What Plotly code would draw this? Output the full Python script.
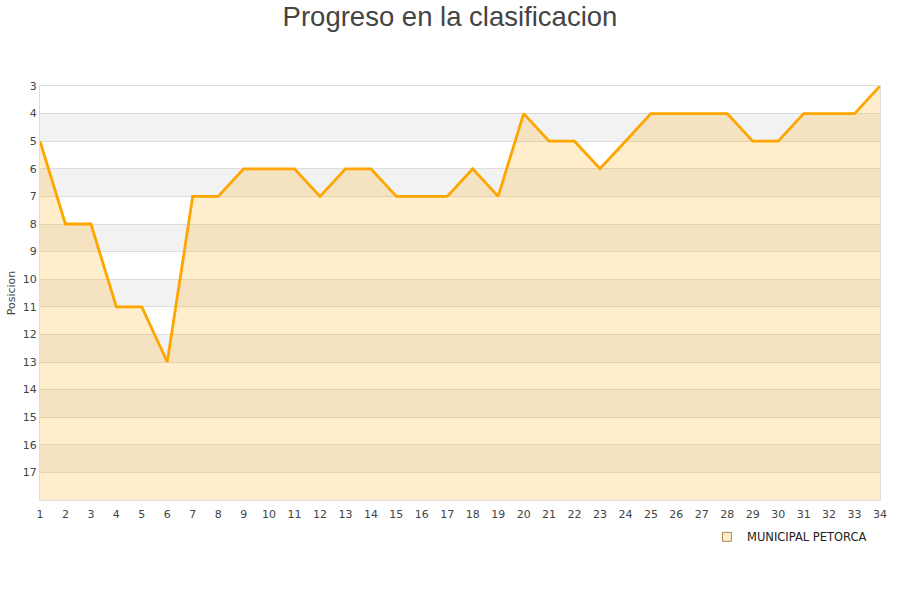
import plotly.graph_objects as go

jornadas = list(range(1, 35))
posiciones = [5, 8, 8, 11, 11, 13, 7, 7, 6, 6, 6, 7, 6, 6, 7, 7, 7, 6, 7, 4,
              5, 5, 6, 5, 4, 4, 4, 4, 5, 5, 4, 4, 4, 3]
y_ticks = list(range(3, 18))
y_min, y_max = 3, 18
team = "MUNICIPAL PETORCA"
title = "Progreso en la clasificacion"

fig = go.Figure()

# baseline for the fill (bottom of reversed axis)
fig.add_trace(go.Scatter(x=jornadas, y=[y_max] * len(jornadas), mode="lines",
                         line=dict(width=0, color="rgba(0,0,0,0)"),
                         showlegend=False, hoverinfo="skip"))
fig.add_trace(go.Scatter(x=jornadas, y=posiciones, mode="lines", fill="tonexty",
                         fillcolor="rgba(255,165,0,0.2)",
                         line=dict(color="#ffa500", width=2.8),
                         name=team, showlegend=False))
# legend-only entry with square marker
fig.add_trace(go.Scatter(x=[None], y=[None], mode="markers", name=team,
                         marker=dict(symbol="square", size=9,
                                     color="#ffedcc",
                                     line=dict(color="#b08850", width=1))))

shapes = []
for v in y_ticks:
    if v % 2 == 0:
        shapes.append(dict(type="rect", xref="paper", yref="y", x0=0, x1=1,
                           y0=v, y1=v + 1, fillcolor="#f2f2f2",
                           line=dict(width=0), layer="below"))

fig.update_layout(
    width=900, height=600,
    margin=dict(l=40, r=20, t=86, b=100),
    paper_bgcolor="white", plot_bgcolor="white",
    title=dict(text=title, x=0.5, xanchor="center", y=0.988, yanchor="top",
               font=dict(family="Liberation Sans, Arial", size=27.5, color="#444")),
    font=dict(family="DejaVu Sans, Arial", size=11, color="#444"),
    shapes=shapes,
    showlegend=True,
    legend=dict(orientation="h", x=0.794, xanchor="left", y=-0.089, yanchor="middle",
                font=dict(size=11.5, color="#222"), bgcolor="rgba(0,0,0,0)",
                itemwidth=30),
    xaxis=dict(range=[1, 34], tickmode="array", tickvals=jornadas,
               ticktext=[str(j) for j in jornadas], showgrid=False,
               zeroline=False, showline=True, linecolor="#ddd", mirror=True,
               ticks="", ticklabelstandoff=4, tickfont=dict(size=11, color="#444")),
    yaxis=dict(range=[y_max, y_min], tickmode="array", tickvals=y_ticks,
               ticktext=[str(v) for v in y_ticks], showgrid=True,
               gridcolor="#ddd", gridwidth=1, zeroline=False, showline=True,
               linecolor="#ddd", mirror=True, ticks="",
               title=dict(text="Posicion", font=dict(size=11, color="#444"), standoff=4),
               tickfont=dict(size=11, color="#444")),
)

fig.write_html("out.html", config={"displayModeBar": False},
               post_script="document.body.style.margin='0';")
